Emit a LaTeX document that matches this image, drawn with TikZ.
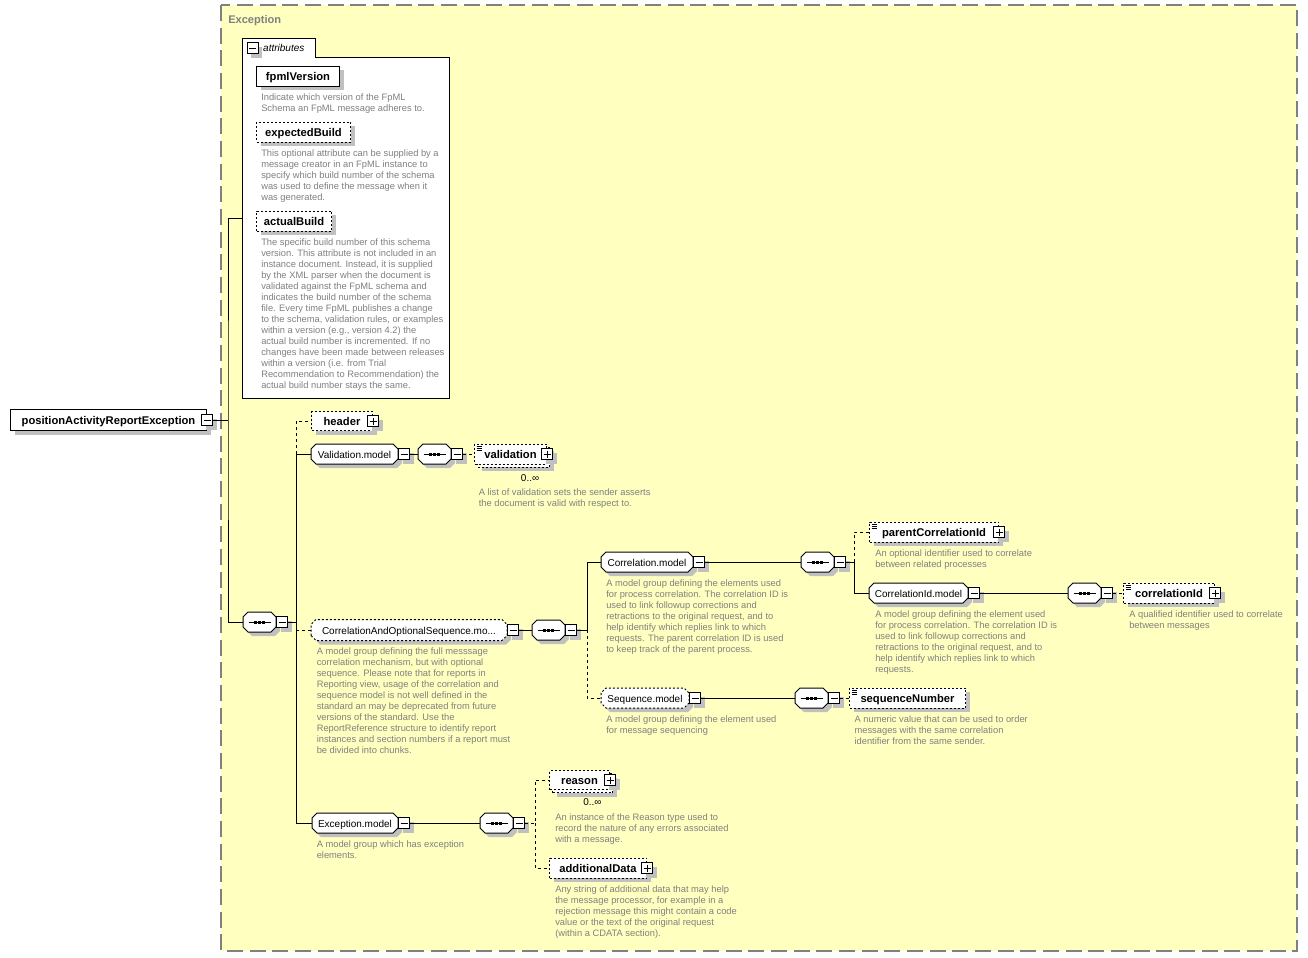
\documentclass[tikz,border=0pt]{standalone}
\usepackage{fontspec}
\setmainfont{Liberation Sans}
\usetikzlibrary{shadows}

\newlength{\pxu}
\setlength{\pxu}{0.75pt}

\definecolor{bgyellow}{RGB}{255,255,192}
\definecolor{framegray}{RGB}{128,128,128}
\definecolor{shadowgray}{RGB}{192,192,192}
\definecolor{descgray}{RGB}{128,128,128}

\newcommand{\elemfont}{\fontsize{8.4}{10}\selectfont\bfseries}
\newcommand{\grpfont}{\fontsize{7.5}{9}\selectfont}
\newcommand{\descfont}{\fontsize{7}{8.25}\selectfont}

% box with cut corners for model groups and compositors
\makeatletter
\pgfdeclareshape{cutbox}{
  \inheritsavedanchors[from=rectangle]
  \inheritanchorborder[from=rectangle]
  \inheritanchor[from=rectangle]{center}
  \inheritanchor[from=rectangle]{north}
  \inheritanchor[from=rectangle]{south}
  \inheritanchor[from=rectangle]{east}
  \inheritanchor[from=rectangle]{west}
  \inheritanchor[from=rectangle]{north east}
  \inheritanchor[from=rectangle]{north west}
  \inheritanchor[from=rectangle]{south east}
  \inheritanchor[from=rectangle]{south west}
  \inheritanchor[from=rectangle]{base}
  \inheritanchor[from=rectangle]{base west}
  \inheritanchor[from=rectangle]{base east}
  \inheritanchor[from=rectangle]{mid}
  \inheritanchor[from=rectangle]{mid west}
  \inheritanchor[from=rectangle]{mid east}
  \backgroundpath{
    \southwest \pgf@xa=\pgf@x \pgf@ya=\pgf@y
    \northeast \pgf@xb=\pgf@x \pgf@yb=\pgf@y
    \pgfpathmoveto{\pgfpoint{\pgf@xa}{\pgf@ya+3.75pt}}
    \pgfpathlineto{\pgfpoint{\pgf@xa}{\pgf@yb-3.75pt}}
    \pgfpathlineto{\pgfpoint{\pgf@xa+3.75pt}{\pgf@yb}}
    \pgfpathlineto{\pgfpoint{\pgf@xb-3.75pt}{\pgf@yb}}
    \pgfpathlineto{\pgfpoint{\pgf@xb}{\pgf@yb-3.75pt}}
    \pgfpathlineto{\pgfpoint{\pgf@xb}{\pgf@ya+3.75pt}}
    \pgfpathlineto{\pgfpoint{\pgf@xb-3.75pt}{\pgf@ya}}
    \pgfpathlineto{\pgfpoint{\pgf@xa+3.75pt}{\pgf@ya}}
    \pgfpathclose
  }
}
\makeatother

\tikzset{
  shdw/.style={drop shadow={shadow xshift=3pt, shadow yshift=-3pt, fill=shadowgray, opacity=1}},
  sz/.style 2 args={minimum width=#1\pxu, minimum height=#2\pxu},
  box/.style={draw, fill=white, line width=0.75pt, inner sep=0pt, anchor=west, font=\elemfont,
    text height=8pt, text depth=1pt},
  elem/.style={box, shdw},
  opt/.style={dash pattern=on 1.5pt off 1.5pt},
  simple/.style={path picture={
    \foreach \k in {2,4,6}
      \draw[solid, black, line width=0.6pt] ([xshift=2\pxu, yshift=-\k\pxu]path picture bounding box.north west) -- ++(5\pxu,0);}},
  grp/.style={cutbox, outer sep=0pt, draw, fill=white, line width=0.75pt, inner sep=0pt,
    anchor=west, font=\grpfont, text height=7pt, text depth=0.5pt, minimum height=20\pxu, shdw},
  compo/.style={grp, minimum width=33\pxu, path picture={
    \draw[solid, black, line width=0.75pt] ([xshift=-11\pxu]path picture bounding box.center) -- ([xshift=11\pxu]path picture bounding box.center);
    \foreach \d in {-4,0,4}
      \fill[black] ([xshift=\d\pxu]path picture bounding box.center) +(-1.5\pxu,-1.5\pxu) rectangle +(1.5\pxu,1.5\pxu);}},
  pm/.style={draw, fill=white, line width=0.75pt, minimum size=11\pxu, inner sep=0pt, shdw},
  minus/.style={pm, path picture={
    \draw[solid, black, line width=0.75pt] ([xshift=2\pxu]path picture bounding box.west) -- ([xshift=-2\pxu]path picture bounding box.east);}},
  plus/.style={pm, path picture={
    \draw[solid, black, line width=0.75pt] ([xshift=2\pxu]path picture bounding box.west) -- ([xshift=-2\pxu]path picture bounding box.east);
    \draw[solid, black, line width=0.75pt] ([yshift=-2\pxu]path picture bounding box.north) -- ([yshift=2\pxu]path picture bounding box.south);}},
  desc/.style={anchor=north west, inner sep=0pt, align=left, font=\descfont, text=descgray,
    execute at begin node=\rule{0pt}{7pt}},
  occ/.style={anchor=base west, inner sep=0pt, font=\grpfont},
  link/.style={line width=0.75pt},
  optlink/.style={link, dash pattern=on 2.25pt off 2.25pt}
}

\begin{document}
\begin{tikzpicture}[x=0.75pt,y=-0.75pt]
\useasboundingbox (0,0) rectangle (1308,957);

% Exception type frame
\draw[fill=bgyellow, draw=framegray, line width=1pt, dash pattern=on 12pt off 5pt] (221,5) rectangle (1297,951);
\node[anchor=base west, inner sep=0pt, font=\fontsize{8.3}{10}\selectfont\bfseries, text=framegray] (exclbl) at (228,23) {Exception};

% root element
\node[elem, sz={196}{21}] (root) at (10,420) {positionActivityReportException};
\node[minus] (rootpm) at (root.east) {};

% attributes
\draw[fill=white, line width=0.75pt] (242,38) -| (315,57) -| (449,398) -- (242,398) -- cycle;
\node[minus] (attrpm) at (252.5,48) {};
\node[anchor=west, font=\grpfont\itshape] (attrlbl) at (attrpm.east) {attributes};
\coordinate (attrin) at (242,218);

\node[elem, sz={83}{20}] (fpml) at (256,76) {fpmlVersion};
\node[desc] (fpmld) at (261,93.2) {Indicate which version of the FpML\\Schema an FpML message adheres to.};
\node[elem, opt, sz={94}{20}] (expb) at (256,132) {expectedBuild};
\node[desc] (expbd) at (261,149.7) {This optional attribute can be supplied by a\\message creator in an FpML instance to\\specify which build number of the schema\\was used to define the message when it\\was generated.};
\node[elem, opt, sz={75}{20}] (actb) at (256,221) {actualBuild};
\node[desc] (actbd) at (261,238) {The specific build number of this schema\\version. This attribute is not included in an\\instance document. Instead, it is supplied\\by the XML parser when the document is\\validated against the FpML schema and\\indicates the build number of the schema\\file. Every time FpML publishes a change\\to the schema, validation rules, or examples\\within a version (e.g., version 4.2) the\\actual build number is incremented. If no\\changes have been made between releases\\within a version (i.e. from Trial\\Recommendation to Recommendation) the\\actual build number stays the same.};

% main sequence
\node[compo] (sqroot) at (243,622) {};
\node[minus, anchor=west] (sqrootpm) at (sqroot.east) {};

\node[elem, opt, sz={61}{19}] (header) at (311,421) {header};
\node[plus] (headerpm) at (header.east) {};

\node[grp, minimum width=87\pxu] (valm) at (311,454) {Validation.model};
\node[minus, anchor=west] (valmpm) at (valm.east) {};
\node[compo] (sqval) at (418,454) {};
\node[minus, anchor=west] (sqvalpm) at (sqval.east) {};
\node[elem, opt, sz={72}{20}] (validb) at (477,457) {};
\node[box, opt, simple, sz={72}{20}] (valid) at (474,454) {validation};
\node[plus] (validpm) at (valid.east) {};
\node[occ] (validocc) at (520.7,481.7) {0..∞};
\node[desc] (validd) at (478.5,488) {A list of validation sets the sender asserts\\the document is valid with respect to.};

\node[grp, opt, sz={196}{21}] (caos) at (311,630) {CorrelationAndOptionalSequence.mo...};
\node[minus, anchor=west] (caospm) at (caos.east) {};
\node[desc] (caosd) at (316.5,647.4) {A model group defining the full messsage\\correlation mechanism, but with optional\\sequence. Please note that for reports in\\Reporting view, usage of the correlation and\\sequence model is not well defined in the\\standard an may be deprecated from future\\versions of the standard. Use the\\ReportReference structure to identify report\\instances and section numbers if a report must\\be divided into chunks.};
\node[compo] (sqcaos) at (532,630) {};
\node[minus, anchor=west] (sqcaospm) at (sqcaos.east) {};

\node[grp, minimum width=92\pxu] (corm) at (601,562) {Correlation.model};
\node[minus, anchor=west] (cormpm) at (corm.east) {};
\node[desc] (cormd) at (606,579) {A model group defining the elements used\\for process correlation. The correlation ID is\\used to link followup corrections and\\retractions to the original request, and to\\help identify which replies link to which\\requests. The parent correlation ID is used\\to keep track of the parent process.};
\node[compo] (sqcor) at (801,562) {};
\node[minus, anchor=west] (sqcorpm) at (sqcor.east) {};

\node[elem, opt, simple, sz={129}{20}] (pcid) at (869,532) {parentCorrelationId};
\node[plus] (pcidpm) at (pcid.east) {};
\node[desc] (pcidd) at (875,549) {An optional identifier used to correlate\\between related processes};

\node[grp, minimum width=99\pxu] (cidm) at (869,593) {CorrelationId.model};
\node[minus, anchor=west] (cidmpm) at (cidm.east) {};
\node[desc] (cidmd) at (875,610) {A model group defining the element used\\for process correlation. The correlation ID is\\used to link followup corrections and\\retractions to the original request, and to\\help identify which replies link to which\\requests.};
\node[compo] (sqcid) at (1068,593) {};
\node[minus, anchor=west] (sqcidpm) at (sqcid.east) {};
\node[elem, opt, simple, sz={91}{20}] (cid) at (1123,593) {correlationId};
\node[plus] (cidpm) at (cid.east) {};
\node[desc] (cidd) at (1129,610) {A qualified identifier used to correlate\\between messages};

\node[grp, opt, minimum width=88\pxu] (seqm) at (601,698) {Sequence.model};
\node[minus, anchor=west] (seqmpm) at (seqm.east) {};
\node[desc] (seqmd) at (606,715) {A model group defining the element used\\for message sequencing};
\node[compo] (sqseq) at (795,698) {};
\node[minus, anchor=west] (sqseqpm) at (sqseq.east) {};
\node[elem, opt, simple, sz={116}{20}] (seqno) at (849,698) {sequenceNumber};
\node[desc] (seqnod) at (854.3,715) {A numeric value that can be used to order\\messages with the same correlation\\identifier from the same sender.};

\node[grp, minimum width=86\pxu] (exm) at (312,823) {Exception.model};
\node[minus, anchor=west] (exmpm) at (exm.east) {};
\node[desc] (exmd) at (316.5,840) {A model group which has exception\\elements.};
\node[compo] (sqexc) at (480,823) {};
\node[minus, anchor=west] (sqexcpm) at (sqexc.east) {};
\node[elem, opt, sz={60}{19}] (reasonb) at (552,783) {};
\node[box, opt, sz={60}{19}] (reason) at (549,780) {reason};
\node[plus] (reasonpm) at (reason.east) {};
\node[occ] (reasonocc) at (583,805.7) {0..∞};
\node[desc] (reasond) at (555,813.4) {An instance of the Reason type used to\\record the nature of any errors associated\\with a message.};
\node[elem, opt, sz={97}{20}] (adddata) at (549,868) {additionalData};
\node[plus] (adddatapm) at (adddata.east) {};
\node[desc] (adddatad) at (555,885) {Any string of additional data that may help\\the message processor, for example in a\\rejection message this might contain a code\\value or the text of the original request\\(within a CDATA section).};

% connectors
\coordinate (j0) at (228,420);
\draw[link] (rootpm.east) -- (j0);
\draw[link] (attrin) -| (j0) |- (sqroot.west);

\coordinate (j1) at (296,622);
\coordinate (t2) at (296,454);
\draw[link] (sqrootpm.east) -- (j1);
\draw[optlink] (t2) |- (header.west);
\draw[link] (t2) -- (valm.west);
\draw[link] (t2) |- (exm.west);
\draw[optlink] (j1 |- caos.west) -- (caos.west);

\draw[link] (valmpm.east) -- (sqval.west);
\draw[optlink] (sqvalpm.east) -- (valid.west);

\coordinate (j2) at (587,630);
\draw[link] (caospm.east) -- (sqcaos.west);
\draw[link] (sqcaospm.east) -- (j2) |- (corm.west);
\draw[optlink] (j2) |- (seqm.west);

\coordinate (j3) at (854,562);
\draw[link] (cormpm.east) -- (sqcor.west);
\draw[link] (sqcorpm.east) -- (j3) |- (cidm.west);
\draw[optlink] (j3) |- (pcid.west);

\draw[link] (cidmpm.east) -- (sqcid.west);
\draw[optlink] (sqcidpm.east) -- (cid.west);

\draw[link] (seqmpm.east) -- (sqseq.west);
\draw[optlink] (sqseqpm.east) -- (seqno.west);

\coordinate (j4) at (535,823);
\draw[link] (exmpm.east) -- (sqexc.west);
\draw[optlink] (sqexcpm.east) -- (j4) |- (reason.west);
\draw[optlink] (j4) |- (adddata.west);
\end{tikzpicture}
\end{document}
